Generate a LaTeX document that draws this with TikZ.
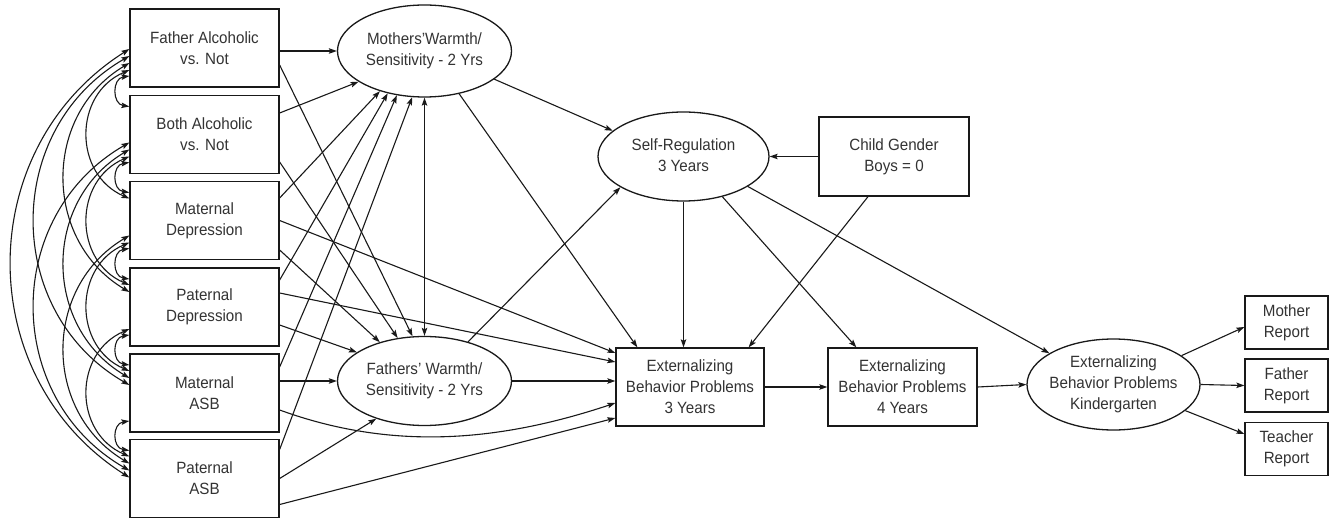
\documentclass[tikz,border=0pt]{standalone}
\usepackage{fontspec}
\setmainfont{Liberation Sans}[FakeStretch=0.93]
\usetikzlibrary{shapes.geometric,arrows.meta}
\newcommand{\ctrtext}[1]{\makebox[0pt]{\begin{tabular}{@{}c@{}}#1\end{tabular}}}
\begin{document}
\begin{tikzpicture}[x=1pt,y=-1pt,
  font=\fontsize{16.3}{21}\selectfont,
  box/.style={draw=black!90, line width=1.3pt, rectangle, minimum width=149pt, minimum height=78pt, align=center, inner sep=0pt, text=black!80},
  ell/.style={draw=black!90, line width=1.3pt, ellipse, inner sep=0pt, text=black!80},
  arr/.style={-{Stealth[length=8pt,width=5.5pt,inset=1.5pt]}, line width=1.1pt, draw=black!90},
  dbl/.style={{Stealth[length=8pt,width=5.5pt,inset=1.5pt]}-{Stealth[length=8pt,width=5.5pt,inset=1.5pt]}, line width=1.1pt, draw=black!90}]
\fill[white] (0,0) rectangle (1337,518);
\useasboundingbox (0,0) rectangle (1337,518);

% exogenous boxes
\node[box] (b1) at (204.5,48) {Father Alcoholic\\vs. Not};
\node[box] (b2) at (204.5,134.5) {Both Alcoholic\\vs. Not};
\node[box] (b3) at (204.5,220.5) {Maternal\\Depression};
\node[box] (b4) at (204.5,307) {Paternal\\Depression};
\node[box] (b5) at (204.5,393) {Maternal\\ASB};
\node[box] (b6) at (204.5,478.5) {Paternal\\ASB};

% latent / other
\node[ell, minimum width=174pt, minimum height=92pt] (MW) at (424.5,51) {\ctrtext{Mothers’Warmth/\\Sensitivity - 2 Yrs}};
\node[ell, minimum width=174pt, minimum height=89pt] (FW) at (424.5,381) {\ctrtext{Fathers’ Warmth/\\Sensitivity - 2 Yrs}};
\node[ell, minimum width=171pt, minimum height=89pt] (SR) at (683.5,156.5) {\ctrtext{Self-Regulation\\3 Years}};
\node[box, minimum width=150pt, minimum height=79pt] (CG) at (894,156.5) {Child Gender\\Boys = 0};
\node[box, minimum width=148pt] (E3) at (690,387) {Externalizing\\Behavior Problems\\3 Years};
\node[box] (E4) at (902.5,387) {Externalizing\\Behavior Problems\\4 Years};
\node[ell, minimum width=173pt, minimum height=91pt] (KG) at (1113.5,384.5) {\ctrtext{Externalizing\\Behavior Problems\\Kindergarten}};
\node[box, minimum width=83pt, minimum height=53pt] (MR) at (1286.5,322.5) {Mother\\Report};
\node[box, minimum width=83pt, minimum height=53pt] (FR) at (1286.5,385.5) {Father\\Report};
\node[box, minimum width=83pt, minimum height=53pt] (TR) at (1286.5,449) {Teacher\\Report};

% covariances among exogenous variables (control offsets in canvas pt: y up)
\foreach \dd/\oo/\ccx/\ccy in {1/28/17.3/2.5, 2/22/56.1/24.3, 3/15/86.8/51.7, 4/8/126.6/73.1, 5/1/157.3/99.8}{
  \foreach \ii in {1,...,6}{
    \pgfmathtruncatemacro\jj{\ii+\dd}
    \ifnum\jj<7
      \draw[dbl] ([yshift=-\oo pt]b\ii.west) .. controls +(-\ccx pt,-\ccy pt) and +(-\ccx pt,\ccy pt) .. ([yshift=\oo pt]b\jj.west);
    \fi
  }
}

% paths from exogenous variables
\draw[arr] (b1.east |- MW.west) -- (MW.west);
\draw[arr] ([yshift=-17pt]b1.east) -- (FW.105);
\draw[arr] ([yshift=21.5pt]b2.east) -- (MW.205);
\draw[arr] ([yshift=-27.5pt]b2.east) -- (FW.122);
\draw[arr] ([yshift=22.5pt]b3.east) -- (MW.222);
\draw[arr] (b3.east) -- ([yshift=34pt]E3.west);
\draw[arr] ([yshift=-29.5pt]b3.east) -- (FW.139);
\draw[arr] ([yshift=27pt]b4.east) -- (MW.229);
\draw[arr] ([yshift=14pt]b4.east) -- ([yshift=25pt]E3.west);
\draw[arr] ([yshift=-18pt]b4.east) -- (FW.157);
\draw[arr] ([yshift=26pt]b5.east) -- (MW.238);
\draw[arr] (b5.east |- FW.west) -- (FW.west);
\draw[arr] ([yshift=-17pt]b5.east) .. controls +(110pt,-40pt) and +(-120pt,-40pt) .. ([yshift=-16pt]E3.west);
\draw[arr] ([yshift=29pt]b6.east) -- (MW.255);
\draw[arr] (b6.east) -- (FW.218);
\draw[arr] ([yshift=-26pt]b6.east) -- ([yshift=-31pt]E3.west);

% mediators and outcomes
\draw[dbl] (MW.south) -- (FW.north);
\draw[arr] (MW.338) -- (SR.160);
\draw[arr] (MW.309) -- ([xshift=22pt]E3.north west);
\draw[arr] (FW.42) -- (SR.206);
\draw[arr] (FW.east) -- (FW.east -| E3.west);
\draw[arr] (CG.west) -- (SR.east);
\draw[arr] ([xshift=-26pt]CG.south) -- ([xshift=-16pt]E3.north east);
\draw[arr] (SR.south) -- (SR.south |- E3.north);
\draw[arr] (SR.314) -- ([xshift=29pt]E4.north west);
\draw[arr] (SR.335) -- (KG.154);
\draw[arr] (E3.east) -- (E4.west);
\draw[arr] (E4.east) -- (KG.west);
\draw[arr] (KG.23) -- ([yshift=-4.5pt]MR.west);
\draw[arr] (KG.east) -- (FR.west);
\draw[arr] (KG.340) -- ([yshift=15pt]TR.west);
\end{tikzpicture}
\end{document}
